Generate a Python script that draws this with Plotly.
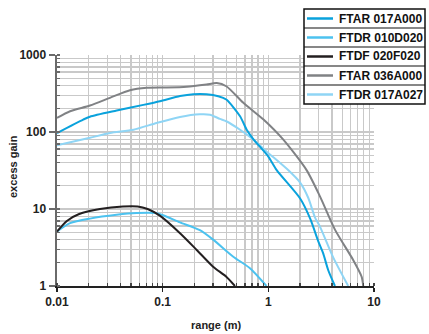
import plotly.graph_objects as go

series_names = ["FTAR 017A000", "FTDR 010D020", "FTDF 020F020", "FTAR 036A000", "FTDR 017A027"]
series_colors = ["#0aa2dc", "#4cc2ef", "#231f20", "#808285", "#8fd5f5"]

ftar017_x = [0.01, 0.0177, 0.0205, 0.0367, 0.0656, 0.094, 0.146, 0.195, 0.26, 0.336, 0.40, 0.54, 0.624, 0.72, 1.0, 1.2, 2.0, 2.5, 2.97, 3.3, 3.69, 4.27]
ftar017_y = [97, 145, 158, 190, 225, 251, 293, 310, 310, 292, 264, 160, 107, 81, 48, 32, 13.7, 7.4, 3.8, 2.67, 1.6, 1.0]

ftdr010_x = [0.01, 0.0133, 0.0205, 0.0367, 0.0567, 0.085, 0.101, 0.146, 0.225, 0.30, 0.466, 0.67, 0.96]
ftdr010_y = [5.1, 6.55, 7.5, 8.4, 8.85, 8.85, 8.3, 6.7, 5.3, 4.0, 2.4, 1.7, 1.0]

ftdf020_x = [0.01, 0.0124, 0.0162, 0.0255, 0.042, 0.058, 0.072, 0.094, 0.146, 0.21, 0.30, 0.40, 0.483]
ftdf020_y = [5.1, 7.0, 8.6, 10.0, 10.8, 10.8, 10.0, 8.2, 4.85, 2.94, 1.78, 1.32, 1.0]

ftar036_x = [0.01, 0.0133, 0.0205, 0.0317, 0.049, 0.0706, 0.109, 0.169, 0.26, 0.325, 0.40, 0.58, 0.9, 1.38, 2.3, 3.08, 4.27, 6.35, 7.64, 7.9]
ftar036_y = [152, 186, 221, 278, 349, 375, 378, 387, 414, 432, 393, 239, 145, 80, 32, 14.6, 5.4, 2.18, 1.32, 1.0]

ftdr017_x = [0.01, 0.0205, 0.0317, 0.053, 0.0878, 0.146, 0.225, 0.28, 0.348, 0.40, 0.54, 0.71, 0.96, 1.54, 2.0, 2.39, 2.76, 3.08, 4.11, 5.7]
ftdr017_y = [67, 84, 97, 107, 131, 157, 170, 168, 148, 138, 107, 81, 56, 32, 22, 13.9, 7.8, 5.9, 2.35, 1.0]

x_tickvals = [0.01, 0.1, 1, 10]
x_ticktext = ["0.01", "0.1", "1", "10"]
y_tickvals = [1, 10, 100, 1000]
y_ticktext = ["1", "10", "100", "1000"]

xs = [ftar017_x, ftdr010_x, ftdf020_x, ftar036_x, ftdr017_x]
ys = [ftar017_y, ftdr010_y, ftdf020_y, ftar036_y, ftdr017_y]

W, H = 429, 334
L, R, T, B = 57, 55, 55, 48
pw, ph = W - L - R, H - T - B

def px2paper_x(px):
    return (px - L) / pw

def px2paper_y(py):
    return (H - B - py) / ph

fig = go.Figure()
draw_order = [4, 3, 0, 1, 2]
for i in draw_order:
    fig.add_trace(go.Scatter(x=xs[i], y=ys[i], mode="lines", name=series_names[i],
                             line=dict(color=series_colors[i], width=2, shape="spline", smoothing=0.7),
                             showlegend=False, hoverinfo="skip"))

grid = "#c9c9c9"
fig.update_xaxes(type="log", range=[-2, 1], tickvals=x_tickvals, ticktext=x_ticktext,
                 automargin=False,
                 showgrid=True, gridcolor=grid, gridwidth=1.3,
                 showline=True, linecolor="#222", linewidth=1.5,
                 ticks="outside", ticklen=4, tickcolor="#222", tickwidth=1.3,
                 minor=dict(dtick="D1", showgrid=True, gridcolor=grid, gridwidth=1.3,
                            ticks="inside", ticklen=3, tickcolor="#444"),
                 tickfont=dict(family="Liberation Sans", size=12, color="#222", weight="bold"),
                 zeroline=False)
fig.update_yaxes(type="log", range=[0, 3], tickvals=y_tickvals, ticktext=y_ticktext,
                 automargin=False,
                 showgrid=True, gridcolor=grid, gridwidth=1.3,
                 showline=True, linecolor="#6a6a6a", linewidth=2.5,
                 ticks="outside", ticklen=6, tickcolor="#6a6a6a", tickwidth=1.3,
                 minor=dict(dtick="D1", showgrid=True, gridcolor=grid, gridwidth=1.3,
                            ticks="inside", ticklen=3, tickcolor="#6a6a6a"),
                 tickfont=dict(family="Liberation Sans", size=12, color="#222", weight="bold"),
                 zeroline=False)

title_font = dict(family="Liberation Sans", size=11, color="#222", weight="bold")
annotations = [
    dict(text="range (m)", xref="paper", yref="paper", x=px2paper_x(216), y=px2paper_y(325),
         xanchor="center", yanchor="middle", showarrow=False, font=title_font),
    dict(text="excess gain", xref="paper", yref="paper", x=px2paper_x(13), y=px2paper_y(167),
         xanchor="center", yanchor="middle", showarrow=False, textangle=-90, font=title_font),
]

# manual legend
box_l, box_r, box_t, box_b = 304, 425, 9, 104
row_h = (box_b - box_t) / len(series_names)
shapes = [dict(type="rect", xref="paper", yref="paper",
               x0=px2paper_x(box_l), x1=px2paper_x(box_r), y0=px2paper_y(box_b), y1=px2paper_y(box_t),
               line=dict(color="#111", width=1.5), fillcolor="white", layer="above")]
for k, name in enumerate(series_names):
    top = box_t + k * row_h
    cy = top + row_h / 2
    if k > 0:
        shapes.append(dict(type="line", xref="paper", yref="paper",
                           x0=px2paper_x(box_l), x1=px2paper_x(box_r), y0=px2paper_y(top), y1=px2paper_y(top),
                           line=dict(color="#111", width=1.2), layer="above"))
    shapes.append(dict(type="line", xref="paper", yref="paper",
                       x0=px2paper_x(307), x1=px2paper_x(333), y0=px2paper_y(cy), y1=px2paper_y(cy),
                       line=dict(color=series_colors[k], width=2.5), layer="above"))
    annotations.append(dict(text=name, xref="paper", yref="paper", x=px2paper_x(337), y=px2paper_y(cy),
                            xanchor="left", yanchor="middle", showarrow=False,
                            font=dict(family="Liberation Sans", size=12, color="#111", weight="bold")))

fig.update_layout(width=W, height=H, margin=dict(l=L, r=R, t=T, b=B, autoexpand=False),
                  paper_bgcolor="white", plot_bgcolor="white",
                  shapes=shapes, annotations=annotations, showlegend=False)

fig.write_html("out.html", config={"displayModeBar": False, "staticPlot": True},
               post_script="document.body.style.margin='0px';document.body.style.overflow='hidden';")
